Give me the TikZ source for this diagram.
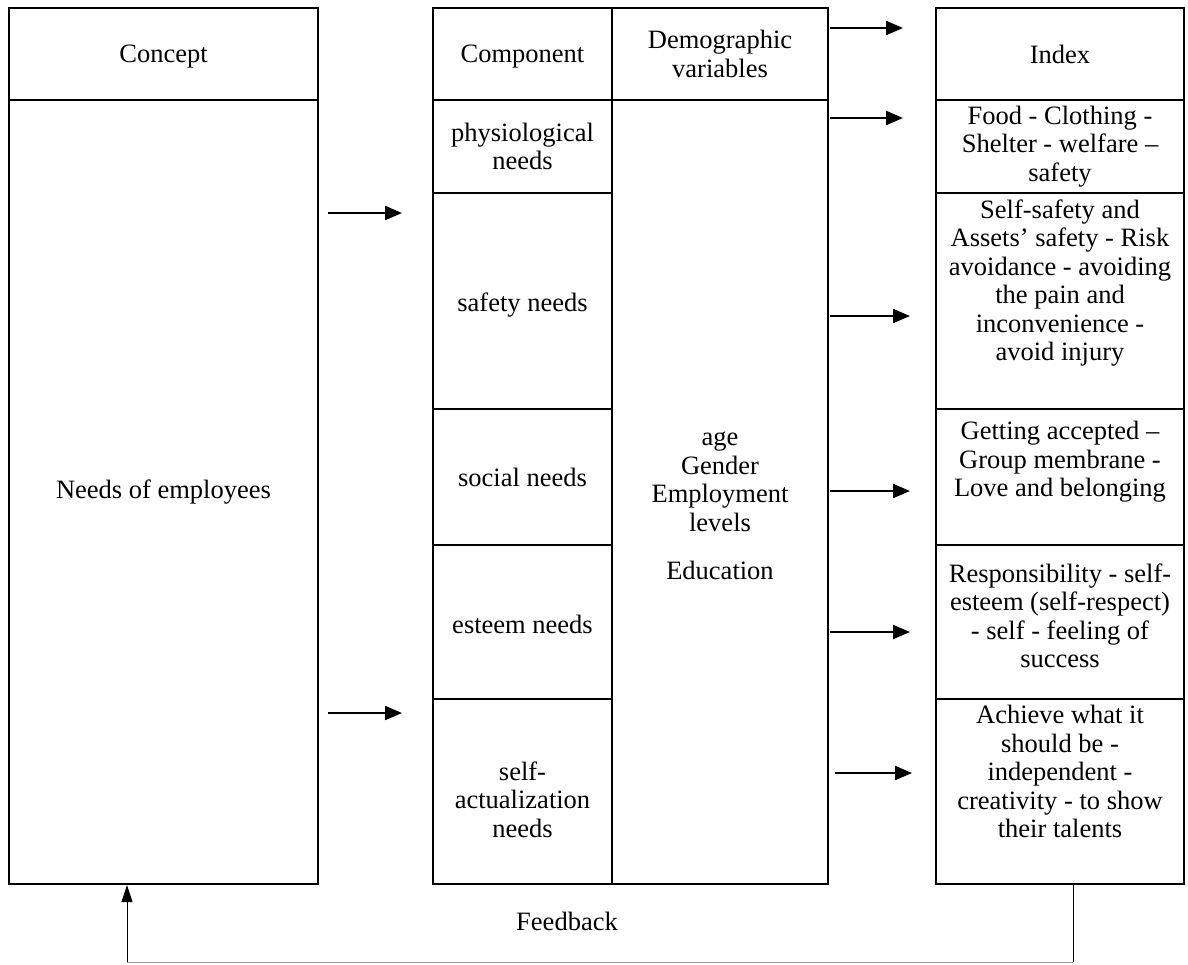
\documentclass[tikz,border=0pt]{standalone}
\usepackage{fontspec}
\setmainfont{Liberation Serif}
\usetikzlibrary{arrows.meta}

\tikzset{
  cell/.style={draw, line width=2.2pt, inner sep=0pt},
  txt/.style={align=center, inner sep=0pt, font=\fontsize{26.5}{28.5}\selectfont},
  flow/.style={line width=2.2pt, -{Triangle[length=17pt, width=14pt]}},
  back/.style={line width=1pt}
}

\begin{document}
\begin{tikzpicture}[x=1pt, y=-1pt]
  \useasboundingbox (0,0) rectangle (1188,964);

  % Concept column
  \node[cell, minimum width=309, minimum height=92]  (conHead) at (163.5,54) {};
  \node[cell, minimum width=309, minimum height=784] (conBody) at (163.5,492) {};
  \node[txt] (conHeadT) at ([yshift=-3pt]conHead.center) {Concept};
  \node[txt] (conBodyT) at (conBody) {Needs of employees};

  % Component column
  \node[cell, minimum width=179, minimum height=92]  (compHead) at (522.5,54) {};
  \node[cell, minimum width=179, minimum height=93]  (compPhys) at (522.5,146.5) {};
  \node[cell, minimum width=179, minimum height=216] (compSafe) at (522.5,301) {};
  \node[cell, minimum width=179, minimum height=136] (compSoc)  at (522.5,477) {};
  \node[cell, minimum width=179, minimum height=154] (compEst)  at (522.5,622) {};
  \node[cell, minimum width=179, minimum height=185] (compSelf) at (522.5,791.5) {};
  \node[txt] (compHeadT) at ([yshift=-3pt]compHead.center) {Component};
  \node[txt] (compPhysT) at (compPhys) {physiological\\needs};
  \node[txt] (compSafeT) at ([yshift=-4pt]compSafe.center) {safety needs};
  \node[txt] (compSocT)  at (compSoc) {social needs};
  \node[txt] (compEstT)  at ([yshift=-2pt]compEst.center) {esteem needs};
  \node[txt] (compSelfT) at ([yshift=-8pt]compSelf.center) {self-\\actualization\\needs};

  % Demographic variables column
  \node[cell, minimum width=216, minimum height=92]  (demHead) at (720,54) {};
  \node[cell, minimum width=216, minimum height=784] (demBody) at (720,492) {};
  \node[txt] (demHeadT) at (demHead) {Demographic\\variables};
  \node[txt] (demBodyT) at ([yshift=-14pt]demBody.center) {age\\Gender\\Employment\\levels\\[20pt]Education};

  % Index column
  \node[cell, minimum width=248, minimum height=92]  (idxHead) at (1060,54) {};
  \node[cell, minimum width=248, minimum height=93]  (idxPhys) at (1060,146.5) {};
  \node[cell, minimum width=248, minimum height=216] (idxSafe) at (1060,301) {};
  \node[cell, minimum width=248, minimum height=136] (idxSoc)  at (1060,477) {};
  \node[cell, minimum width=248, minimum height=154] (idxEst)  at (1060,622) {};
  \node[cell, minimum width=248, minimum height=185] (idxSelf) at (1060,791.5) {};
  \node[txt] (idxHeadT) at (idxHead) {Index};
  \node[txt] (idxPhysT) at (idxPhys) {Food - Clothing -\\Shelter - welfare –\\safety};
  \node[txt] (idxSafeT) at ([yshift=18pt]idxSafe.center) {Self-safety and\\Assets’ safety - Risk\\avoidance - avoiding\\the pain and\\inconvenience -\\avoid injury};
  \node[txt] (idxSocT)  at ([yshift=15pt]idxSoc.center) {Getting accepted –\\Group membrane -\\Love and belonging};
  \node[txt] (idxEstT)  at ([yshift=6pt]idxEst.center) {Responsibility - self-\\esteem (self-respect)\\- self - feeling of\\success};
  \node[txt] (idxSelfT) at ([yshift=20pt]idxSelf.center) {Achieve what it\\should be -\\independent -\\creativity - to show\\their talents};

  % Arrow ends
  \coordinate (a1s) at (328,213);  \coordinate (a1e) at (402,213);
  \coordinate (a2s) at (328,713);  \coordinate (a2e) at (402,713);
  \coordinate (a3s) at (830,28);   \coordinate (a3e) at (903,28);
  \coordinate (a4s) at (830,118);  \coordinate (a4e) at (903,118);
  \coordinate (a5s) at (830,316);  \coordinate (a5e) at (910,316);
  \coordinate (a6s) at (830,491);  \coordinate (a6e) at (910,491);
  \coordinate (a7s) at (830,632);  \coordinate (a7e) at (910,632);
  \coordinate (a8s) at (835,773);  \coordinate (a8e) at (912,773);

  % Arrows between columns
  \draw[flow] (a1s) -- (a1e);
  \draw[flow] (a2s) -- (a2e);
  \draw[flow] (a3s) -- (a3e);
  \draw[flow] (a4s) -- (a4e);
  \draw[flow] (a5s) -- (a5e);
  \draw[flow] (a6s) -- (a6e);
  \draw[flow] (a7s) -- (a7e);
  \draw[flow] (a8s) -- (a8e);

  % Feedback loop
  \coordinate (fbR) at (1073,962);
  \coordinate (fbL) at (127,962);
  \draw[back] (fbR |- idxSelf.south) -- (fbR);
  \draw[back, black!40] (fbR) -- (fbL);
  \draw[back, -{Triangle[length=17pt, width=11pt]}] (fbL) -- (fbL |- conBody.south);
  \node[txt] (fbT) at (567,921) {Feedback};
\end{tikzpicture}
\end{document}
